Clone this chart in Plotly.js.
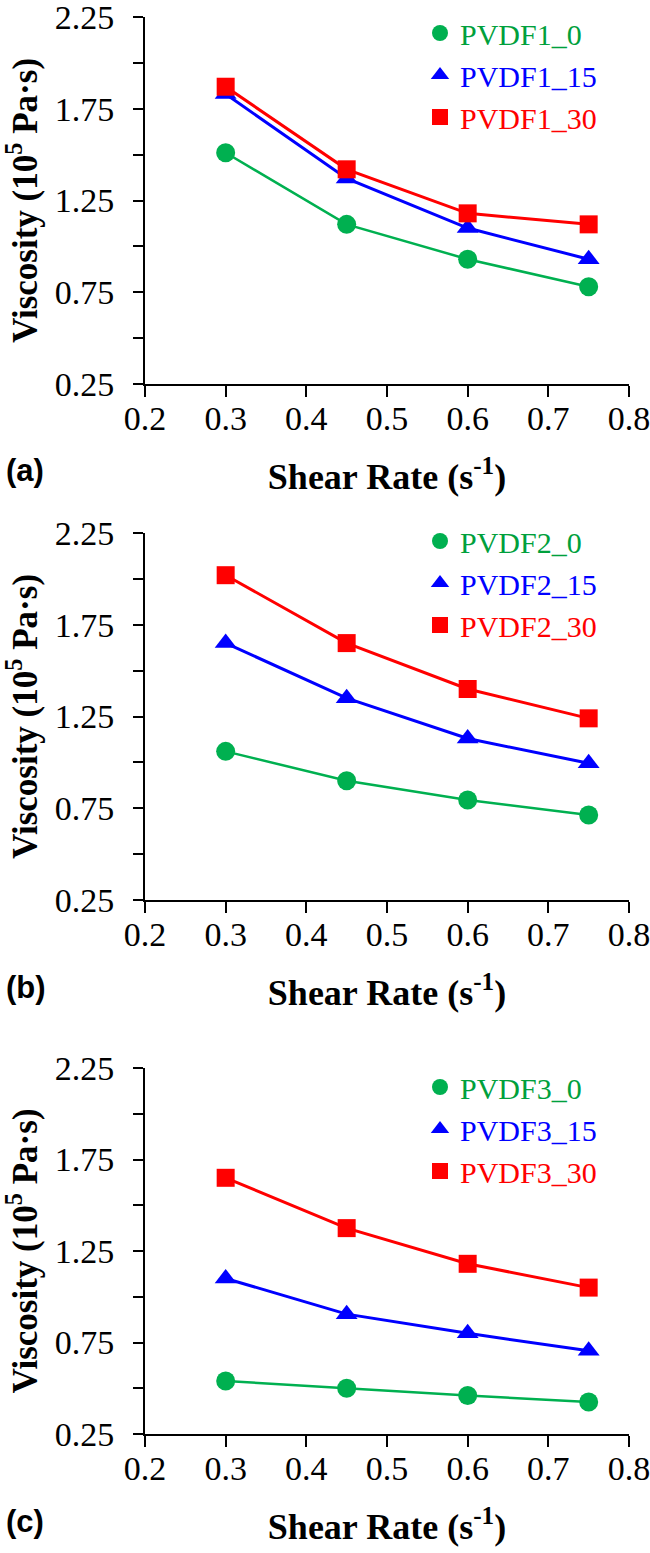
<!DOCTYPE html>
<html>
<head>
<meta charset="utf-8">
<script src="https://cdn.plot.ly/plotly-3.0.1.min.js"></script>
<style>
  html, body { margin: 0; padding: 0; background: #fff; }
</style>
</head>
<body>
<div id="plot" style="width:650px;height:1553px"></div>
<script>
// shear rate (s^-1), shared by all three panels
var shear_rate = [0.3, 0.45, 0.6, 0.75];

// viscosity, 10^5 Pa.s
var pvdf1_0  = [1.51, 1.12, 0.93, 0.78];
var pvdf1_15 = [1.83, 1.37, 1.10, 0.93];
var pvdf1_30 = [1.87, 1.42, 1.18, 1.12];

var pvdf2_0  = [1.06, 0.90, 0.795, 0.713];
var pvdf2_15 = [1.65, 1.35, 1.13, 0.995];
var pvdf2_30 = [2.02, 1.65, 1.40, 1.24];

var pvdf3_0  = [0.54, 0.50, 0.46, 0.425];
var pvdf3_15 = [1.10, 0.905, 0.80, 0.705];
var pvdf3_30 = [1.65, 1.375, 1.18, 1.05];

var panel_labels = ['(a)', '(b)', '(c)'];
var series_names = [
   ['PVDF1_0', 'PVDF1_15', 'PVDF1_30'],
   ['PVDF2_0', 'PVDF2_15', 'PVDF2_30'],
   ['PVDF3_0', 'PVDF3_15', 'PVDF3_30']
];
var series_values = [
   [pvdf1_0, pvdf1_15, pvdf1_30],
   [pvdf2_0, pvdf2_15, pvdf2_30],
   [pvdf3_0, pvdf3_15, pvdf3_30]
];
var y_tickvals = [0.25, 0.75, 1.25, 1.75, 2.25];
var y_ticktext = ['0.25', '0.75', '1.25', '1.75', '2.25'];
var y_minorvals = [0.5, 1.0, 1.5, 2.0];
var x_tickvals = [0.2, 0.3, 0.4, 0.5, 0.6, 0.7, 0.8];
var x_ticktext = ['0.2', '0.3', '0.4', '0.5', '0.6', '0.7', '0.8'];

var W = 650, H = 1553;
var SERIF = 'Times New Roman';
var SANS = 'Arial';

var styles = [
   {color: '#00b050', text: '#00a03c', symbol: 'circle', size: 19, width: 2.5},
   {color: '#0000ff', text: '#0000ff', symbol: 'triangle-up', size: 19, width: 3},
   {color: '#ff0000', text: '#ff0000', symbol: 'square', size: 18, width: 3}
];

// pixel boxes of each panel (top / bottom of plot area) and legend tops
var panel_top = [17, 533, 1068];
var panel_bottom = [384, 900, 1434];
var legend_top = [7, 515, 1061];
var x_left = 145, x_right = 629;

var traces = [];
var layout = {
   width: W,
   height: H,
   margin: {l: 0, r: 0, t: 0, b: 0},
   paper_bgcolor: '#fff',
   plot_bgcolor: '#fff',
   font: {family: SERIF, color: '#000'},
   showlegend: true,
   annotations: []
};

for (var p = 0; p < 3; p++) {
   var sfx = p === 0 ? '' : String(p + 1);
   var legend_id = 'legend' + sfx;

   for (var s = 0; s < 3; s++) {
      var st = styles[s];
      // connecting line
      traces.push({
         x: shear_rate,
         y: series_values[p][s],
         xaxis: 'x' + sfx,
         yaxis: 'y' + sfx,
         mode: 'lines',
         line: {color: st.color, width: st.width},
         showlegend: false,
         hoverinfo: 'skip'
      });
      // markers, these carry the legend entry
      traces.push({
         name: '<span style="color:' + st.text + '">' + series_names[p][s] + '</span>',
         x: shear_rate,
         y: series_values[p][s],
         xaxis: 'x' + sfx,
         yaxis: 'y' + sfx,
         mode: 'markers',
         marker: {color: st.color, symbol: st.symbol, size: st.size, line: {width: 0}},
         legend: legend_id,
         hoverinfo: 'x+y'
      });
   }

   layout['xaxis' + sfx] = {
      domain: [x_left / W, x_right / W],
      anchor: 'y' + sfx,
      range: [0.2, 0.8],
      tickmode: 'array',
      tickvals: x_tickvals,
      ticktext: x_ticktext,
      ticks: 'outside',
      ticklen: 11,
      tickwidth: 2,
      tickcolor: '#000',
      ticklabelstandoff: -8,
      ticklabeloverflow: 'allow',
      showline: true,
      linecolor: '#000',
      linewidth: 2,
      showgrid: false,
      zeroline: false,
      tickfont: {family: SERIF, size: 34, color: '#000'},
      title: {
         text: '<b>Shear Rate (s<sup>-1</sup>)</b>',
         font: {family: SERIF, size: 36, color: '#000'},
         standoff: 28
      }
   };
   layout['yaxis' + sfx] = {
      domain: [1 - panel_bottom[p] / H, 1 - panel_top[p] / H],
      anchor: 'x' + sfx,
      range: [0.25, 2.25],
      tickmode: 'array',
      tickvals: y_tickvals,
      ticktext: y_ticktext,
      ticks: 'outside',
      ticklen: 10,
      tickwidth: 2,
      tickcolor: '#000',
      ticklabelstandoff: 12,
      ticklabeloverflow: 'allow',
      minor: {
         tickmode: 'array',
         tickvals: y_minorvals,
         ticks: 'outside',
         ticklen: 10,
         tickwidth: 2,
         tickcolor: '#000',
         showgrid: false
      },
      showline: true,
      linecolor: '#000',
      linewidth: 2,
      showgrid: false,
      zeroline: false,
      tickfont: {family: SERIF, size: 34, color: '#000'},
      title: {
         text: '<b>Viscosity (10<sup>5</sup> Pa·s)</b>',
         font: {family: SERIF, size: 35, color: '#000'},
         standoff: 10
      }
   };
   layout[legend_id] = {
      x: 420 / W,
      y: 1 - legend_top[p] / H,
      xanchor: 'left',
      yanchor: 'top',
      bgcolor: 'rgba(0,0,0,0)',
      borderwidth: 0,
      font: {family: SERIF, size: 30, color: '#000'}
   };
   layout.annotations.push({
      text: '<b>' + panel_labels[p] + '</b>',
      xref: 'paper',
      yref: 'paper',
      x: 4 / W,
      y: 1 - (panel_bottom[p] + 87) / H,
      xanchor: 'left',
      yanchor: 'middle',
      showarrow: false,
      font: {family: SANS, size: 31, color: '#000'}
   });
}

Plotly.newPlot('plot', traces, layout, {displayModeBar: false});
</script>
</body>
</html>
